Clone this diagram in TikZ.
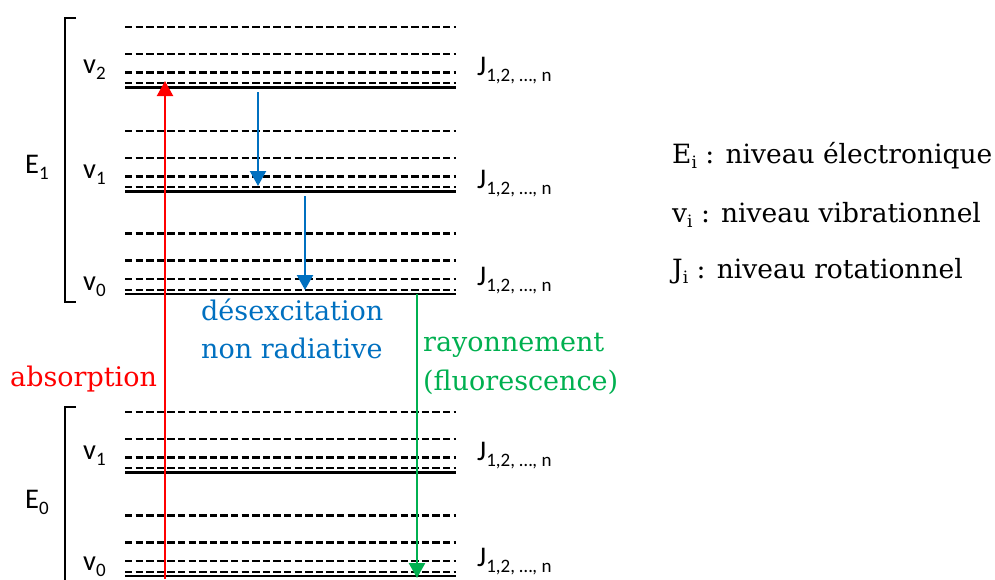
\documentclass[tikz,border=0pt]{standalone}
\usepackage{fontspec}
\setmainfont{DejaVu Serif}
\newfontfamily\lblfont{Carlito}
\usetikzlibrary{arrows.meta}
\definecolor{absred}{RGB}{255,0,0}
\definecolor{nrblue}{RGB}{0,112,192}
\definecolor{flgreen}{RGB}{0,176,80}
\newcommand{\lsub}[1]{\raisebox{-6pt}{\fontsize{19}{20}\selectfont #1}}
\newcommand{\legsub}[1]{\raisebox{-5pt}{\fontsize{17}{18}\selectfont #1}}
\begin{document}
\begin{tikzpicture}[x=1pt,y=-1pt,
  rotlvl/.style={line width=2.4pt, dash pattern=on 7.3pt off 3.3pt},
  viblvl/.style={line width=2.4pt},
  bracketline/.style={line width=2.4pt},
  lbl/.style={font=\lblfont\fontsize{28.5}{30}\selectfont, anchor=base west, inner sep=0pt},
  leg/.style={font=\fontsize{26.5}{28}\selectfont, anchor=base west, inner sep=0pt},
  ctxt/.style={font=\fontsize{27}{29}\selectfont, anchor=base west, inner sep=0pt},
  arr/.style={line width=2.2pt, -{Triangle[width=16pt,length=15pt]}}
]
\useasboundingbox (0,0) rectangle (995,579);

% levels
\foreach \s in {87.5,191.5,294,472.5,576}{
  \draw[viblvl] (125,\s) -- (456,\s);
  \foreach \d in {4.3,15,33.5,60.5}
    \draw[rotlvl] (125,\s-\d) -- (456,\s-\d);
}

% brackets
\draw[bracketline] (76,18) -- (65,18) -- (65,302) -- (76,302);
\draw[bracketline] (76,407) -- (65,407) -- (65,585);

% labels
\node[lbl] (E1) at (25,173) {E\lsub{1}};
\node[lbl] (E0) at (25,508) {E\lsub{0}};
\node[lbl] (v2u) at (83,73.3) {v\lsub{2}};
\node[lbl] (v1u) at (83,178) {v\lsub{1}};
\node[lbl] (v0u) at (83,290) {v\lsub{0}};
\node[lbl] (v1l) at (83,459) {v\lsub{1}};
\node[lbl] (v0l) at (83,570) {v\lsub{0}};

\foreach \n/\y in {a/75,b/188,c/285,d/460,e/566}
  \node[lbl] (J\n) at (477,\y) {J\lsub{1,2, …, n}};

% legend
\node[leg] (legE) at (672,163) {E\legsub{i} : niveau électronique};
\node[leg] (legv) at (672,222) {v\legsub{i} : niveau vibrationnel};
\node[leg] (legJ) at (672,278) {J\legsub{i} : niveau rotationnel};

% arrows
\coordinate (absA) at (165,579);
\coordinate (absB) at (165,81);
\draw[arr, absred] (absA) -- (absB);

\coordinate (nrA1) at (258,92);
\coordinate (nrB1) at (258,186);
\draw[arr, nrblue] (nrA1) -- (nrB1);
\coordinate (nrA2) at (305,196);
\coordinate (nrB2) at (305,290);
\draw[arr, nrblue] (nrA2) -- (nrB2);

\coordinate (flA) at (417,294);
\coordinate (flB) at (417,578);
\draw[arr, flgreen, line width=2.6pt] (flA) -- (flB);

% texts
\node[ctxt, text=absred] (abs) at (10,386) {absorption};
\node[ctxt, text=nrblue] (nr1) at (201,320) {désexcitation};
\node[ctxt, text=nrblue] (nr2) at (201,358) {non radiative};
\node[ctxt, text=flgreen] (fl1) at (423,351.7) {rayonnement};
\node[ctxt, text=flgreen] (fl2) at (423,390) {(fluorescence)};
\end{tikzpicture}
\end{document}
